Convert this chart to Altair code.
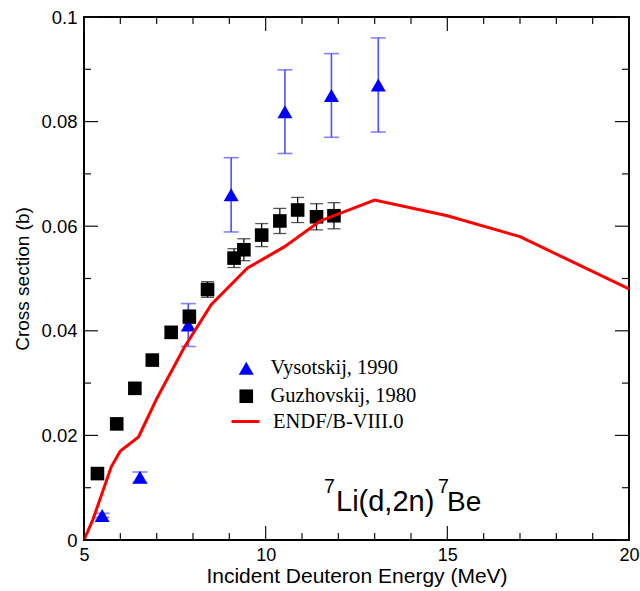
import altair as alt
import pandas as pd

# ---------------- data ----------------
series_names = ["Vysotskij, 1990", "Guzhovskij, 1980"]
model_name = ["ENDF/B-VIII.0"]

# Vysotskij, 1990 (blue triangles)
vys_e = [5.50, 6.54, 7.87, 9.05, 10.53, 11.81, 13.10]
vys_s = [0.0047, 0.0120, 0.0411, 0.0660, 0.0819, 0.0850, 0.0870]
vys_err = [0.0004, 0.0010, 0.0041, 0.0071, 0.0080, 0.0080, 0.0090]

# Guzhovskij, 1980 (black squares)
guz_e = [5.37, 5.90, 6.40, 6.88, 7.40, 7.90, 8.40, 9.13, 9.40, 9.89, 10.39, 10.88, 11.40, 11.88]
guz_s = [0.0127, 0.0222, 0.0290, 0.0344, 0.0397, 0.0427, 0.0479, 0.0539, 0.0555, 0.0583,
         0.0610, 0.0631, 0.0618, 0.0620]
guz_err = [0.0008, 0.0008, 0.0009, 0.0010, 0.0011, 0.0013, 0.0015, 0.0018, 0.0021, 0.0022,
           0.0024, 0.0024, 0.0025, 0.0025]

# ENDF/B-VIII.0 (red line)
endf_e = [5.0, 5.25, 5.5, 5.75, 6.0, 6.5, 7.0, 7.75, 8.5, 9.5, 10.5, 11.5, 13.0, 15.0, 17.0, 20.0]
endf_s = [0.0, 0.004, 0.009, 0.014, 0.017, 0.0197, 0.027, 0.0367, 0.045, 0.052, 0.056, 0.061,
          0.065, 0.062, 0.058, 0.048]

# axis ticks
x_major = [5, 10, 15, 20]
x_minor = [6, 7, 8, 9, 11, 12, 13, 14, 16, 17, 18, 19]
y_major = [0, 0.02, 0.04, 0.06, 0.08, 0.1]
y_minor = [0.01, 0.03, 0.05, 0.07, 0.09]

# ---------------- layout / style ----------------
W, H = 545, 523
PAD = {"left": 84, "top": 17, "right": 11, "bottom": 51}
SANS = "Liberation Sans"
SERIF = "Liberation Serif"
MAJ, MIN = 14, 7

vys = pd.DataFrame({"E": vys_e, "s": vys_s, "series": series_names[0]})
vys["lo"] = [s - e for s, e in zip(vys_s, vys_err)]
vys["hi"] = [s + e for s, e in zip(vys_s, vys_err)]
guz = pd.DataFrame({"E": guz_e, "s": guz_s, "series": series_names[1]})
guz["lo"] = [s - e for s, e in zip(guz_s, guz_err)]
guz["hi"] = [s + e for s, e in zip(guz_s, guz_err)]
pts = pd.concat([vys, guz], ignore_index=True)
endf = pd.DataFrame({"E": endf_e, "s": endf_s, "model": model_name[0]})

xs = alt.Scale(domain=[5, 20], nice=False, zero=False)
ys = alt.Scale(domain=[0, 0.1], nice=False, zero=False)

xaxis = alt.Axis(values=x_major, format="~g", ticks=False, tickSize=0, domain=False, grid=False,
                 labelFont=SANS, labelFontSize=18, labelColor="black", labelPadding=6,
                 labelOverlap=False, labelFlush=False,
                 title="Incident Deuteron Energy (MeV)", titleFont=SANS, titleFontSize=21,
                 titleFontWeight="normal", titleColor="black", titlePadding=1)
yaxis = alt.Axis(values=y_major, format="~g", ticks=False, tickSize=0, domain=False, grid=False,
                 labelFont=SANS, labelFontSize=18.5, labelColor="black", labelPadding=7,
                 labelOverlap=False, labelFlush=False,
                 title="Cross section (b)", titleFont=SANS, titleFontSize=19,
                 titleFontWeight="normal", titleColor="black", titlePadding=8)


def X(f):
    return alt.X(f, type="quantitative", scale=xs, axis=xaxis)


def Y(f):
    return alt.Y(f, type="quantitative", scale=ys, axis=yaxis)


pt_legend = alt.Legend(
    title=None, orient="none", legendX=152, legendY=341,
    labelFont=SERIF, labelFontSize=20.5, labelColor="black", labelOffset=14,
    symbolOpacity=1, symbolStrokeWidth=0, padding=0, rowPadding=7,
)
ln_legend = alt.Legend(
    title=None, orient="none", legendX=146, legendY=389,
    labelFont=SERIF, labelFontSize=20.5, labelColor="black", labelOffset=12,
    symbolType="stroke", symbolSize=784, symbolStrokeWidth=3, symbolOpacity=1, padding=0,
)

color = alt.Color("series:N", scale=alt.Scale(domain=series_names, range=["#0000ff", "#000000"]),
                  legend=pt_legend)
shape = alt.Shape("series:N", scale=alt.Scale(domain=series_names,
                                              range=["triangle-up", "square"]),
                  legend=pt_legend)
size = alt.Size("series:N", scale=alt.Scale(domain=series_names, range=[225, 185]),
                legend=pt_legend)
stroke = alt.Stroke("model:N", scale=alt.Scale(domain=model_name, range=["#ff0000"]),
                    legend=ln_legend)

# error bars
vys_bar = alt.Chart(vys).mark_rule(color="#4f4fff", strokeWidth=1.6).encode(
    x=X("E"), y=Y("lo"), y2="hi")
vys_cap_lo = alt.Chart(vys).mark_tick(color="#4f4fff", orient="horizontal", size=15,
                                      thickness=1.6).encode(x=X("E"), y=Y("lo"))
vys_cap_hi = alt.Chart(vys).mark_tick(color="#4f4fff", orient="horizontal", size=15,
                                      thickness=1.6).encode(x=X("E"), y=Y("hi"))
guz_bar = alt.Chart(guz).mark_rule(color="#111111", strokeWidth=1.3).encode(
    x=X("E"), y=Y("lo"), y2="hi")
guz_cap_lo = alt.Chart(guz).mark_tick(color="#111111", orient="horizontal", size=13,
                                      thickness=1.3).encode(x=X("E"), y=Y("lo"))
guz_cap_hi = alt.Chart(guz).mark_tick(color="#111111", orient="horizontal", size=13,
                                      thickness=1.3).encode(x=X("E"), y=Y("hi"))

points = alt.Chart(pts).mark_point(filled=True, opacity=1, strokeWidth=0).encode(
    x=X("E"), y=Y("s"), color=color, shape=shape, size=size)

line = alt.Chart(endf).mark_line(strokeWidth=3).encode(x=X("E"), y=Y("s"), stroke=stroke)

# inward ticks on all four sides
xmaj = pd.DataFrame({"v": x_major})
xmin = pd.DataFrame({"v": x_minor})
ymaj = pd.DataFrame({"v": y_major})
ymin = pd.DataFrame({"v": y_minor})
tk = dict(color="#111111", strokeWidth=1.2)
ticks = [
    alt.Chart(xmaj).mark_rule(**tk).encode(x=X("v"), y=alt.value(H), y2=alt.value(H - MAJ)),
    alt.Chart(xmaj).mark_rule(**tk).encode(x=X("v"), y=alt.value(0), y2=alt.value(MAJ)),
    alt.Chart(xmin).mark_rule(**tk).encode(x=X("v"), y=alt.value(H), y2=alt.value(H - MIN)),
    alt.Chart(xmin).mark_rule(**tk).encode(x=X("v"), y=alt.value(0), y2=alt.value(MIN)),
    alt.Chart(ymaj).mark_rule(**tk).encode(y=Y("v"), x=alt.value(0), x2=alt.value(MAJ)),
    alt.Chart(ymaj).mark_rule(**tk).encode(y=Y("v"), x=alt.value(W), x2=alt.value(W - MAJ)),
    alt.Chart(ymin).mark_rule(**tk).encode(y=Y("v"), x=alt.value(0), x2=alt.value(MIN)),
    alt.Chart(ymin).mark_rule(**tk).encode(y=Y("v"), x=alt.value(W), x2=alt.value(W - MIN)),
]

# reaction label  7Li(d,2n)7Be
one = alt.Data(values=[{}])
ann = [
    alt.Chart(one).mark_text(text="7", font=SANS, fontSize=19.5, align="left",
                             baseline="alphabetic", color="black").encode(
        x=alt.value(324 - 84), y=alt.value(493 - 17)),
    alt.Chart(one).mark_text(text="Li(d,2n)", font=SANS, fontSize=29, align="left",
                             baseline="alphabetic", color="black").encode(
        x=alt.value(336 - 84), y=alt.value(511 - 17)),
    alt.Chart(one).mark_text(text="7", font=SANS, fontSize=19.5, align="left",
                             baseline="alphabetic", color="black").encode(
        x=alt.value(438 - 84), y=alt.value(493 - 17)),
    alt.Chart(one).mark_text(text="Be", font=SANS, fontSize=28, align="left",
                             baseline="alphabetic", color="black").encode(
        x=alt.value(447 - 84), y=alt.value(511 - 17)),
]

chart = alt.layer(
    vys_bar, vys_cap_lo, vys_cap_hi, guz_bar, guz_cap_lo, guz_cap_hi, points, line,
    *ticks, *ann
).properties(
    width=W, height=H, padding=PAD, autosize=alt.AutoSizeParams(type="none"),
    background="white",
).configure_view(
    stroke="black", strokeWidth=2
)

chart.save("out.html", embed_options={"renderer": "svg", "actions": False})
